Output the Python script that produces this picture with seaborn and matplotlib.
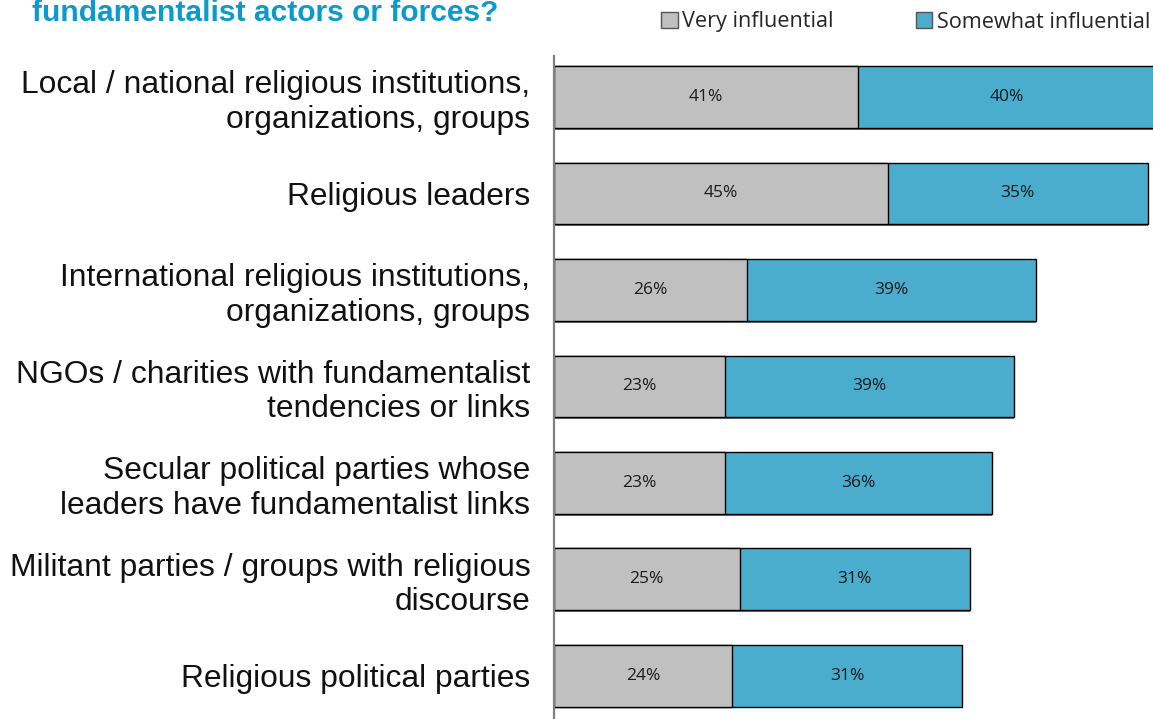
import numpy as np
import pandas as pd
import matplotlib
matplotlib.use("Agg")
import matplotlib.pyplot as plt
import matplotlib.patheffects as pe
from matplotlib.patches import Patch
import seaborn as sns

# Survey responses: share of respondents rating each actor as influential (%)
categories = [
    "Local / national religious institutions,\norganizations, groups",
    "Religious leaders",
    "International religious institutions,\norganizations, groups",
    "NGOs / charities with fundamentalist\ntendencies or links",
    "Secular political parties whose\nleaders have fundamentalist links",
    "Militant parties / groups with religious\ndiscourse",
    "Religious political parties",
]
very_influential = [41, 45, 26, 23, 23, 25, 24]
somewhat_influential = [40, 35, 39, 39, 36, 31, 31]
series_names = ["Very influential", "Somewhat influential"]
title_text = "fundamentalist actors or forces?"

GREY = "#c0c0c0"
BLUE = "#4aadcd"
TITLE_BLUE = "#0a9acb"

df = pd.DataFrame({
    "category": categories,
    "very": very_influential,
    "somewhat": somewhat_influential,
})
df["total"] = df["very"] + df["somewhat"]

sns.set_theme(style="white")
plt.rcParams["font.family"] = ["Liberation Sans", "DejaVu Sans"]

W, H = 1153, 719
fig = plt.figure(figsize=(W / 100, H / 100), dpi=100)
ax = fig.add_axes([554 / W, 0, 599 / W, (719 - 56) / H])

shadow = [pe.SimplePatchShadow(offset=(0, -1.3), shadow_rgbFace="#6e6e6e", alpha=1.0), pe.Normal()]

# Stacked bars: full total in blue, then the "very" part laid over it in grey
sns.barplot(data=df, x="total", y="category", orient="h", color=BLUE, saturation=1,
            width=0.64, edgecolor="black", linewidth=1.0, ax=ax)
sns.barplot(data=df, x="very", y="category", orient="h", color=GREY, saturation=1,
            width=0.64, edgecolor="black", linewidth=1.0, ax=ax)
for p in ax.patches:
    p.set_path_effects(shadow)

# Segment labels
for i, (v, s) in enumerate(zip(df["very"], df["somewhat"])):
    ax.text(v / 2, i, f"{v}%", ha="center", va="center", fontsize=12.5,
            family=["Open Sans", "DejaVu Sans"], color="#1a1a1a")
    ax.text(v + s / 2, i, f"{s}%", ha="center", va="center", fontsize=12.5,
            family=["Open Sans", "DejaVu Sans"], color="#1a1a1a")

ax.set_xlim(0, 599 / 7.42)
ax.set_ylim(6.448, -0.425)
ax.set_xlabel("")
ax.set_ylabel("")
ax.set_xticks([])

for side in ["top", "right", "bottom"]:
    ax.spines[side].set_visible(False)
ax.spines["left"].set_color("#808080")
ax.spines["left"].set_linewidth(1.6)

ax.set_yticks(range(len(categories)))
ax.set_yticklabels(categories, fontsize=22.9, color="#111111", linespacing=1.2)
ax.set_yticks(np.arange(0.5, len(categories) - 1, 1), minor=True)
ax.tick_params(axis="y", which="major", length=0, pad=17)
ax.tick_params(axis="y", which="minor", length=4.5, width=1.0, color="#555555", direction="out")

# Title (continuation line of the question)
fig.text(32 / W, 1 - 21 / H, title_text, ha="left", va="baseline",
         fontsize=21.6, fontweight="bold", color=TITLE_BLUE, family=["Liberation Sans", "DejaVu Sans"])

# Legend
handles = [Patch(facecolor=GREY, edgecolor="#555555", linewidth=1.0),
           Patch(facecolor=BLUE, edgecolor="#555555", linewidth=1.0)]
fig.legend(handles, series_names, loc="center right", bbox_to_anchor=(1150 / W, 1 - 22 / H),
           ncol=2, frameon=False, borderpad=0, borderaxespad=0,
           handlelength=0.76, handleheight=0.76, handletextpad=0.2, columnspacing=3.8,
           prop={"family": ["Open Sans", "DejaVu Sans"], "size": 15.6})

fig.savefig("out.png", dpi=100)
